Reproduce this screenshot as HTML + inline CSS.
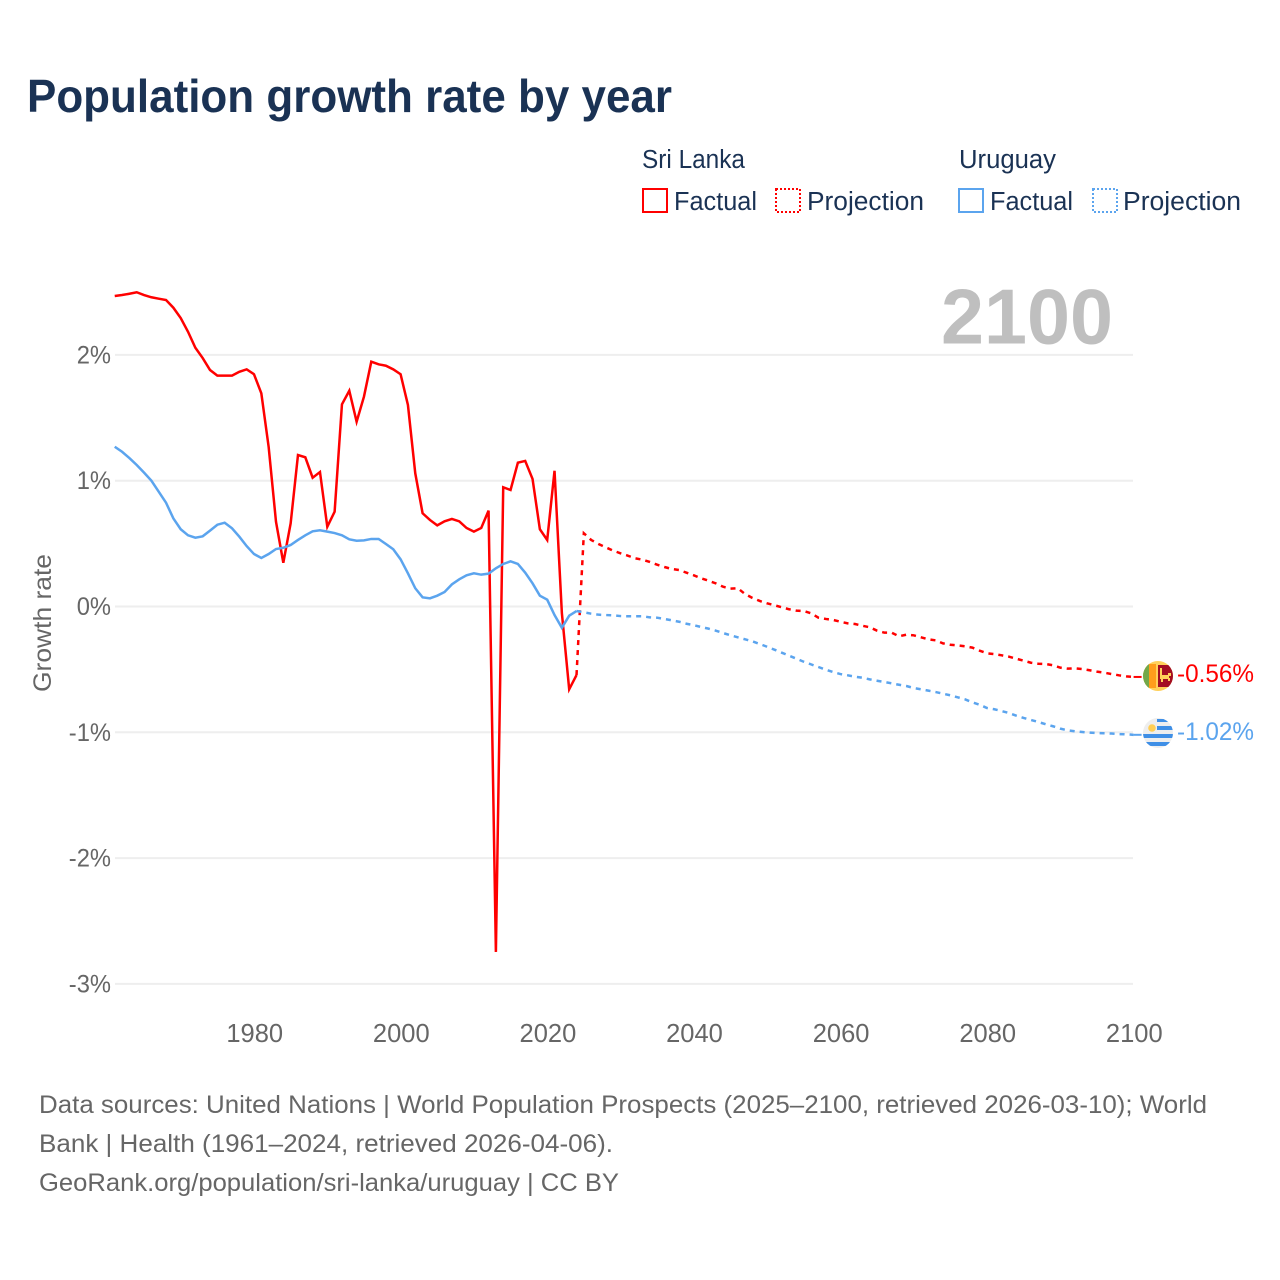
<!DOCTYPE html>
<html lang="en">
<head>
<meta charset="utf-8">
<title>Population growth rate by year</title>
<style>
html,body{margin:0;padding:0;background:#fff;}
svg{display:block;font-family:"Liberation Sans",sans-serif;}
</style>
</head>
<body>
<svg id="chart" xmlns="http://www.w3.org/2000/svg" width="1280" height="1280" viewBox="0 0 1280 1280">
  <rect x="0" y="0" width="1280" height="1280" fill="#fff"/>
  <text x="27" y="112" font-size="46" font-weight="bold" fill="#1a3254" textLength="645" lengthAdjust="spacingAndGlyphs">Population growth rate by year</text>

  <g font-size="25.5" fill="#1a3254">
    <text x="642" y="168" textLength="103" lengthAdjust="spacingAndGlyphs">Sri Lanka</text>
    <rect x="643" y="189" width="24" height="23" fill="none" stroke="#ff0000" stroke-width="2"/>
    <text x="674" y="210" textLength="83" lengthAdjust="spacingAndGlyphs">Factual</text>
    <rect x="776" y="189" width="24" height="23" fill="none" stroke="#ff0000" stroke-width="2" stroke-dasharray="2,2"/>
    <text x="807" y="210" textLength="117" lengthAdjust="spacingAndGlyphs">Projection</text>
    <text x="959" y="168" textLength="97" lengthAdjust="spacingAndGlyphs">Uruguay</text>
    <rect x="959" y="189" width="24" height="23" fill="none" stroke="#5ba4ee" stroke-width="2"/>
    <text x="990" y="210" textLength="83" lengthAdjust="spacingAndGlyphs">Factual</text>
    <rect x="1093" y="189" width="24" height="23" fill="none" stroke="#5ba4ee" stroke-width="2" stroke-dasharray="2,2"/>
    <text x="1123" y="210" textLength="118" lengthAdjust="spacingAndGlyphs">Projection</text>
  </g>

  <g id="grid"></g>
  <g id="yticks" font-size="25" fill="#666"></g>
  <g id="xticks" font-size="25.5" fill="#666"></g>
  <text transform="translate(51,692) rotate(-90)" font-size="25" fill="#666" textLength="138" lengthAdjust="spacingAndGlyphs">Growth rate</text>
  <text x="941" y="343.5" font-size="78" font-weight="bold" fill="#bfbfbf" textLength="172" lengthAdjust="spacingAndGlyphs">2100</text>
  <g id="series"></g>

  <defs>
    <clipPath id="clip-lk"><circle cx="1158" cy="676" r="15"/></clipPath>
    <clipPath id="clip-uy"><circle cx="1158" cy="733" r="15"/></clipPath>
  </defs>
  <g id="flag-lk" clip-path="url(#clip-lk)">
    <rect x="1143" y="661" width="30" height="30" fill="#ffd05a"/>
    <rect x="1143" y="664" width="6" height="24" fill="#73a84a"/>
    <rect x="1149" y="664" width="7" height="24" fill="#ff9d1c"/>
    <rect x="1158" y="665" width="15" height="22" fill="#a30d22"/>
    <path d="M1160 668h2v7h6v-2h3v3h-2v2h1v3h-2v-2h-5v3h-2v-3h-1z" fill="#ffd05a"/>
  </g>
  <g id="flag-uy" clip-path="url(#clip-uy)">
    <rect x="1143" y="718" width="30" height="30" fill="#eeeeee"/>
    <rect x="1157" y="719" width="16" height="3" fill="#3f8fe6"/>
    <rect x="1157" y="726" width="16" height="4" fill="#3f8fe6"/>
    <rect x="1143" y="734" width="30" height="4" fill="#3f8fe6"/>
    <rect x="1143" y="742" width="30" height="4" fill="#3f8fe6"/>
    <circle cx="1152" cy="728" r="3.8" fill="#ffce54"/>
  </g>
  <text x="1177" y="682" font-size="25" fill="#ff0000" textLength="77" lengthAdjust="spacingAndGlyphs">-0.56%</text>
  <text x="1177" y="740" font-size="25" fill="#5ba4ee" textLength="77" lengthAdjust="spacingAndGlyphs">-1.02%</text>

  <g font-size="25" fill="#666">
    <text x="39" y="1113" textLength="1168" lengthAdjust="spacingAndGlyphs">Data sources: United Nations | World Population Prospects (2025–2100, retrieved 2026-03-10); World</text>
    <text x="39" y="1152" textLength="574" lengthAdjust="spacingAndGlyphs">Bank | Health (1961–2024, retrieved 2026-04-06).</text>
    <text x="39" y="1191" textLength="580" lengthAdjust="spacingAndGlyphs">GeoRank.org/population/sri-lanka/uruguay | CC BY</text>
  </g>
</svg>
<script>
const factualStartYear = 1961;
const projectionStartYear = 2025;
const yTickValues = [2, 1, 0, -1, -2, -3];
const yTickLabels = ["2%", "1%", "0%", "-1%", "-2%", "-3%"];
const xTickYears = [1980, 2000, 2020, 2040, 2060, 2080, 2100];

const sriLankaFactual = [2.468,2.476,2.486,2.498,2.476,2.458,2.447,2.436,2.375,2.293,
  2.184,2.057,1.975,1.88,1.835,1.835,1.835,1.866,1.885,1.846,
  1.695,1.268,.674,.348,.661,1.204,1.186,1.024,1.069,.634,
  .754,1.607,1.715,1.469,1.668,1.946,1.925,1.914,1.885,1.846,
  1.602,1.059,.741,.688,.645,.677,.696,.677,.624,.595,
  .624,.762,-2.746,.948,.926,1.143,1.157,1.014,.614,.529,
  1.079,-.052,-.658,-.545];

const sriLankaProjection = [.582,.529,.497,.47,.444,.423,.404,.383,.372,.354,
  .332,.314,.298,.29,.269,.248,.224,.205,.184,.157,
  .142,.145,.099,.068,.044,.025,.01,-.006,-.022,-.033,
  -.036,-.054,-.089,-.099,-.107,-.121,-.134,-.139,-.153,-.165,
  -.192,-.208,-.208,-.237,-.224,-.229,-.245,-.261,-.269,-.293,
  -.304,-.309,-.316,-.327,-.351,-.372,-.378,-.388,-.399,-.415,
  -.431,-.447,-.455,-.457,-.467,-.486,-.494,-.491,-.497,-.507,
  -.518,-.526,-.537,-.547,-.555,-.56];

const uruguayFactual = [1.27,1.23,1.18,1.125,1.064,1.0,.913,.825,.70,.614,
  .566,.547,.558,.603,.65,.666,.622,.555,.48,.417,
  .386,.417,.457,.467,.489,.529,.566,.598,.606,.595,
  .584,.566,.534,.523,.526,.537,.537,.497,.455,.375,
  .264,.145,.073,.065,.086,.115,.176,.216,.248,.264,
  .253,.261,.304,.338,.359,.338,.269,.184,.086,.054,
  -.068,-.169,-.073,-.036];

const uruguayProjection = [-.046,-.057,-.065,-.068,-.07,-.076,-.078,-.078,-.078,-.086,
  -.089,-.099,-.11,-.121,-.137,-.149,-.163,-.176,-.192,-.211,
  -.229,-.245,-.261,-.277,-.298,-.32,-.343,-.367,-.391,-.415,
  -.439,-.46,-.481,-.502,-.521,-.537,-.547,-.558,-.566,-.579,
  -.59,-.6,-.611,-.622,-.632,-.648,-.658,-.669,-.68,-.693,
  -.706,-.722,-.738,-.762,-.781,-.807,-.817,-.831,-.847,-.868,
  -.886,-.902,-.918,-.936,-.952,-.971,-.984,-.992,-.998,-1.003,
  -1.006,-1.008,-1.01,-1.014,-1.016,-1.02];

const NS = "http://www.w3.org/2000/svg";
const RED = "#ff0000";
const BLUE = "#5ba4ee";

function xScale(year) { return 254 + (year - 1980) * 7.33; }
function yScale(value) { return 606.5 - value * 125.8; }

function pathFrom(points) {
  return points.map(function (p, i) {
    return (i ? "L" : "M") + xScale(p[0]).toFixed(2) + " " + yScale(p[1]).toFixed(2);
  }).join("");
}
function toPoints(values, startYear) {
  return values.map(function (v, i) { return [startYear + i, v]; });
}

const gridGroup = document.getElementById("grid");
const yTickGroup = document.getElementById("yticks");
yTickValues.forEach(function (value, i) {
  const line = document.createElementNS(NS, "line");
  
  
  line.setAttribute("x1", 115);
  line.setAttribute("x2", 1133);
  line.setAttribute("y1", yScale(value));
  line.setAttribute("y2", yScale(value));
  line.setAttribute("stroke", "#eeeeee");
  line.setAttribute("stroke-width", "2");
  gridGroup.appendChild(line);

  const label = document.createElementNS(NS, "text");
  
  
  label.setAttribute("x", 111);
  label.setAttribute("y", yScale(value) + 8.5);
  label.setAttribute("text-anchor", "end");
  label.textContent = yTickLabels[i];
  yTickGroup.appendChild(label);
  label.setAttribute("textLength", (label.getComputedTextLength() * 0.95).toFixed(1));
  label.setAttribute("lengthAdjust", "spacingAndGlyphs");
});

const xTickGroup = document.getElementById("xticks");
xTickYears.forEach(function (year) {
  const label = document.createElementNS(NS, "text");
  
  
  label.setAttribute("x", xScale(year) + 0.7);
  label.setAttribute("y", 1042);
  label.setAttribute("text-anchor", "middle");
  label.textContent = year;
  xTickGroup.appendChild(label);
});

const seriesGroup = document.getElementById("series");

function drawLine(points, color, dashed, name) {
  const path = document.createElementNS(NS, "path");
  
  
  path.setAttribute("d", pathFrom(points));
  path.setAttribute("fill", "none");
  path.setAttribute("stroke", color);
  path.setAttribute("stroke-width", "2.5");
  path.setAttribute("stroke-linejoin", "miter");
  if (dashed) { path.setAttribute("stroke-dasharray", "5,5"); }
  seriesGroup.appendChild(path);
}

function drawConnector(lastValue, color, name) {
  const line = document.createElementNS(NS, "line");
  
  
  line.setAttribute("x1", xScale(2100));
  line.setAttribute("x2", xScale(2100) + 8);
  line.setAttribute("y1", yScale(lastValue));
  line.setAttribute("y2", yScale(lastValue));
  line.setAttribute("stroke", color);
  line.setAttribute("stroke-width", "2");
  seriesGroup.appendChild(line);
}

const lkFactualPts = toPoints(sriLankaFactual, factualStartYear);
const uyFactualPts = toPoints(uruguayFactual, factualStartYear);
const lkProjPts = [lkFactualPts[lkFactualPts.length - 1]].concat(toPoints(sriLankaProjection, projectionStartYear));
const uyProjPts = [uyFactualPts[uyFactualPts.length - 1]].concat(toPoints(uruguayProjection, projectionStartYear));

drawLine(lkFactualPts, RED, false, "sri-lanka-factual-line");
drawLine(lkProjPts, RED, true, "sri-lanka-projection-line");
drawLine(uyFactualPts, BLUE, false, "uruguay-factual-line");
drawLine(uyProjPts, BLUE, true, "uruguay-projection-line");
drawConnector(sriLankaProjection[sriLankaProjection.length - 1], RED, "sri-lanka-end-connector");
drawConnector(uruguayProjection[uruguayProjection.length - 1], BLUE, "uruguay-end-connector");
</script>
</body>
</html>
